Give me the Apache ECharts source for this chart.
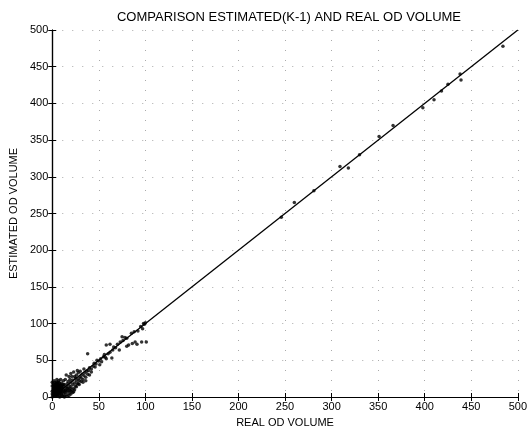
<!DOCTYPE html>
<html>
<head>
<meta charset="utf-8">
<script src="https://cdn.jsdelivr.net/npm/echarts@6/dist/echarts.min.js"></script>
<style>
  html, body { margin: 0; padding: 0; background: #fff; }
  #chart { width: 530px; height: 433px; }
</style>
</head>
<body>
<div id="chart"></div>
<script>
// 数据: 真实OD量 vs 估计OD量
const pointsReal = [
  0,1,2,3,1,2,4,5,3,1,0,2,4,6,7,5,3,1,0,6,8,9,7,10,11,8,4,2,0,0,1,3,5,6,8,10,12,9,12,13,11,14,6,7,2,10,12,15,14,16,13,15,17,18,16,18,19,20,17,20,12,9,5,14,21,22,19,22,24,23,
  1,2,3,4,5,6,7,8,9,10,11,1,2,3,4,5,6,7,8,9,10,2,3,4,5,6,7,8,3,5,7,9,11,13,4,6,8,10,12,14,16,
  25,24,26,21,27,28,26,29,30,28,31,32,30,33,34,35,27,18,15,20,23,36,37,38,34,40,39,42,44,45,47,48,50,46,52,53,55,57,56,60,62,58,65,68,70,
  33,36,40,42,25,28,20,22,24,18,16,13,20,26,29,31,17,19,23,
  38,51,58,62,64,72,75,78,80,82,86,89,91,96,101,99,100,95,92,88,85,80,76,73,66,98,97,
  246,260,281,309,318,330,351,366,398,410,418,425,438,439,484
];
const pointsEst = [
  0,2,1,4,6,8,2,5,10,12,15,14,7,3,8,12,16,18,20,15,5,10,13,2,7,18,19,5,8,4,10,13,9,1,0,12,4,15,10,1,16,6,19,22,22,19,14,3,10,8,17,14,12,5,18,16,9,14,21,20,22,24,24,24,10,17,24,23,19,12,
  3,4,6,1,3,7,5,2,6,4,1,9,11,8,11,14,11,10,13,8,8,17,15,16,18,17,16,15,20,20,20,17,12,7,13,13,11,15,17,9,12,
  26,28,22,28,18,25,30,22,28,33,26,31,35,24,29,33,36,28,30,32,34,27,35,31,38,40,36,38,42,46,45,50,49,41,52,48,55,54,58,59,61,52,64,67,72,
  20,22,30,34,15,18,8,6,10,2,1,0,4,14,17,21,9,12,7,
  59,44,71,72,53,64,82,81,69,71,73,75,72,75,75,99,101,96,90,89,87,80,77,75,68,100,93,
  245,265,281,314,312,330,355,370,394,405,417,426,440,432,478
];
const refLine = [0, 500];
const axisTicks = [0, 50, 100, 150, 200, 250, 300, 350, 400, 450, 500];

const scatterData = pointsReal.map((x, i) => [x, pointsEst[i]]);

const chart = echarts.init(document.getElementById('chart'));
const fontFam = 'Liberation Sans, Arial, sans-serif';

const baseAxis = {
  min: axisTicks[0],
  max: axisTicks[axisTicks.length - 1],
  interval: axisTicks[1] - axisTicks[0],
  axisLine: { show: true, lineStyle: { color: '#000', width: 1.2 } },
  axisTick: { show: true, inside: true, length: 4, lineStyle: { color: '#000' } },
  splitLine: { show: false }
};

const gridLine = { show: true, lineStyle: { color: '#aaa', type: [1, 9], width: 1 } };

const option = {
  backgroundColor: '#fff',
  animation: false,
  title: {
    text: 'COMPARISON ESTIMATED(K-1) AND REAL OD VOLUME',
    left: 284,
    textAlign: 'center',
    top: 6,
    textStyle: { color: '#000', fontSize: 13, fontWeight: 'normal', fontFamily: fontFam }
  },
  grid: { left: 47, right: 9, top: 30, bottom: 30, containLabel: false },
  xAxis: [
    Object.assign({}, baseAxis, {
      type: 'value',
      position: 'bottom',
      name: 'REAL OD VOLUME',
      nameLocation: 'middle',
      nameGap: 20,
      nameTextStyle: { color: '#000', fontSize: 11, fontFamily: fontFam },
      axisLabel: { color: '#000', fontSize: 11, margin: 4, fontFamily: fontFam },
      splitLine: gridLine
    }),
    Object.assign({}, baseAxis, {
      type: 'value',
      position: 'top',
      axisLabel: { show: false }
    })
  ],
  yAxis: [
    Object.assign({}, baseAxis, {
      type: 'value',
      position: 'left',
      name: 'ESTIMATED OD VOLUME',
      nameLocation: 'middle',
      nameGap: 30,
      nameTextStyle: { color: '#000', fontSize: 11, fontFamily: fontFam },
      axisLabel: { color: '#000', fontSize: 11, margin: 4, fontFamily: fontFam },
      splitLine: gridLine
    }),
    Object.assign({}, baseAxis, {
      type: 'value',
      position: 'right',
      axisLabel: { show: false }
    })
  ],
  series: [
    {
      type: 'line',
      data: refLine.map(v => [v, v]),
      symbol: 'none',
      lineStyle: { color: '#000', width: 1.3 },
      z: 3
    },
    {
      type: 'scatter',
      data: scatterData,
      symbol: 'circle',
      symbolSize: 3.5,
      itemStyle: { color: '#000' },
      z: 4
    }
  ]
};

chart.setOption(option);
</script>
</body>
</html>
